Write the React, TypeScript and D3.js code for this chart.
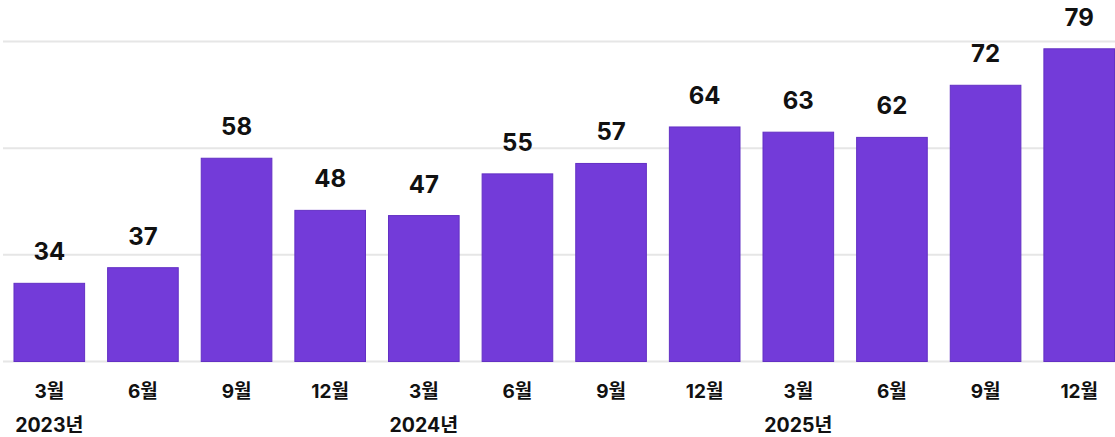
import React from "react";
import * as d3 from "d3";

const months = ["3월", "6월", "9월", "12월", "3월", "6월", "9월", "12월", "3월", "6월", "9월", "12월"];
const values = [34, 37, 58, 48, 47, 55, 57, 64, 63, 62, 72, 79];
const years = ["2023년", "2024년", "2025년"];
const yearStartIndex = [0, 4, 8];

const W = 1115;
const H = 437;

export default function App() {
  const keys = values.map((_, i) => String(i));
  const x = d3
    .scaleBand<string>()
    .domain(keys)
    .range([3, 1125.5])
    .paddingInner(0.235)
    .paddingOuter(0.112);
  const y = d3.scaleLinear().domain([19, 80.4]).range([361.5, 41.5]);
  const gridVals = d3.range(4).map((i) => 19 + (i * (80.4 - 19)) / 3);
  const font = "Inter, 'Noto Sans CJK KR', 'Noto Sans', sans-serif";

  return (
    <svg
      width={W}
      height={H}
      style={{ position: "absolute", left: 0, top: 0, display: "block" }}
      fontFamily={font}
    >
      <rect width={W} height={H} fill="#ffffff" />
      {gridVals.map((g, i) => (
        <line key={i} x1={3} x2={W} y1={y(g)} y2={y(g)} stroke="#e6e6e6" strokeWidth={2} />
      ))}
      {values.map((v, i) => {
        const bx = x(String(i))!;
        const bw = x.bandwidth();
        return (
          <g key={i}>
            <rect
              x={bx + 0.5}
              y={y(v)}
              width={bw - 1}
              height={y(19) - y(v)}
              fill="#733bd9"
              stroke="#6330c4"
              strokeWidth={1}
            />
            <text
              x={bx + bw / 2}
              y={y(v) - 23}
              textAnchor="middle"
              fontSize={24}
              fontWeight={700}
              fill="#111111"
            >
              {v}
            </text>
            <text
              x={bx + bw / 2}
              y={398}
              textAnchor="middle"
              fontSize={19}
              fontWeight={700}
              fill="#111111"
            >
              {months[i]}
            </text>
          </g>
        );
      })}
      {years.map((yr, j) => {
        const idx = yearStartIndex[j];
        const cx = x(String(idx))! + x.bandwidth() / 2;
        return (
          <text
            key={yr}
            x={cx}
            y={432}
            textAnchor="middle"
            fontSize={19.5}
            fontWeight={700}
            fill="#111111"
          >
            {yr}
          </text>
        );
      })}
    </svg>
  );
}
